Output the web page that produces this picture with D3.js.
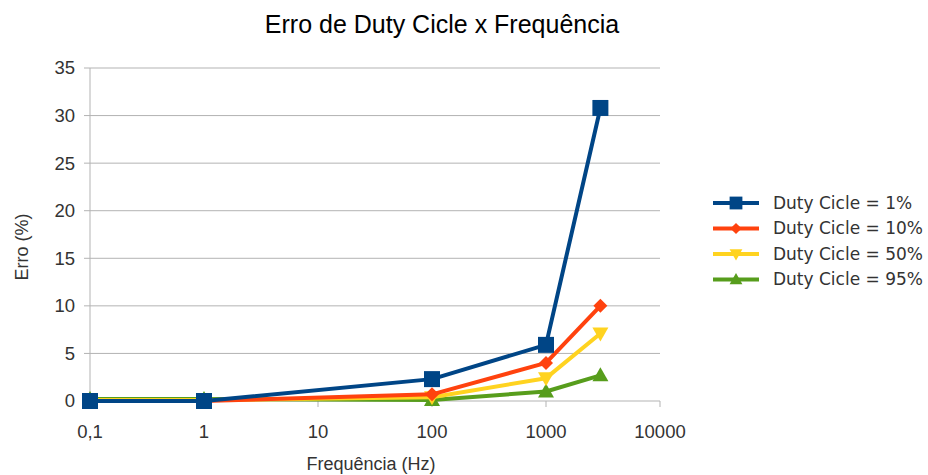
<!DOCTYPE html>
<html>
<head>
<meta charset="utf-8">
<script src="https://cdn.jsdelivr.net/npm/d3@7"></script>
<style>
  body { margin: 0; background: #fff; }
  text { font-family: "Liberation Sans", Arial, sans-serif; fill: #333; }
</style>
</head>
<body>
<script>
// data
const frequencies = [0.1, 1, 100, 1000, 3000];
const seriesNames = ['Duty Cicle = 1%', 'Duty Cicle = 10%', 'Duty Cicle = 50%', 'Duty Cicle = 95%'];
const duty1 = [0, 0, 2.3, 5.9, 30.8];
const duty10 = [0, 0, 0.7, 4.0, 10.0];
const duty50 = [0.1, 0.1, 0.4, 2.4, 7.1];
const duty95 = [0.2, 0.2, 0.1, 1.0, 2.7];
const xTicks = [0.1, 1, 10, 100, 1000, 10000];
const yTicks = [0, 5, 10, 15, 20, 25, 30, 35];

const colors = ['#004586', '#ff420e', '#ffd320', '#579d1c'];
const symbols = ['square', 'diamond', 'down', 'up'];
const allSeries = [duty1, duty10, duty50, duty95];

const width = 928, height = 475;
const margin = { left: 90, right: 268, top: 68, bottom: 74 };

const svg = d3.select('body').append('svg')
  .attr('width', width)
  .attr('height', height);

const x = d3.scaleLog()
  .domain([0.1, 10000])
  .range([margin.left, width - margin.right]);

const y = d3.scaleLinear()
  .domain([0, 35])
  .range([height - margin.bottom, margin.top]);

/* title */
svg.append('text')
  .attr('x', 442)
  .attr('y', 33)
  .attr('text-anchor', 'middle')
  .attr('font-size', 25)
  .style('fill', '#000')
  .text('Erro de Duty Cicle x Frequência');

/* grid */
svg.append('g')
  .selectAll('line')
  .data(yTicks)
  .enter().append('line')
  .attr('x1', margin.left - 6)
  .attr('x2', width - margin.right)
  .attr('y1', d => y(d))
  .attr('y2', d => y(d))
  .attr('stroke', '#b3b3b3')
  .attr('stroke-width', 1);

/* y axis line */
svg.append('line')
  .attr('x1', margin.left)
  .attr('x2', margin.left)
  .attr('y1', y(35))
  .attr('y2', y(0) + 6)
  .attr('stroke', '#b3b3b3');

/* x ticks */
svg.append('g')
  .selectAll('line')
  .data(xTicks)
  .enter().append('line')
  .attr('x1', d => x(d))
  .attr('x2', d => x(d))
  .attr('y1', y(0))
  .attr('y2', y(0) + 6)
  .attr('stroke', '#b3b3b3');

/* y tick labels */
svg.append('g')
  .selectAll('text')
  .data(yTicks)
  .enter().append('text')
  .attr('x', margin.left - 15)
  .attr('y', d => y(d))
  .attr('dy', '0.35em')
  .attr('text-anchor', 'end')
  .attr('font-size', 18.5)
  .text(d => d);

/* x tick labels */
svg.append('g')
  .selectAll('text')
  .data(xTicks)
  .enter().append('text')
  .attr('x', d => x(d))
  .attr('y', y(0) + 37)
  .attr('text-anchor', 'middle')
  .attr('font-size', 18.5)
  .text(d => String(d).replace('.', ','));

/* axis titles */
svg.append('text')
  .attr('transform', `translate(28, 247) rotate(-90)`)
  .attr('text-anchor', 'middle')
  .attr('font-size', 18)
  .text('Erro (%)');

svg.append('text')
  .attr('x', 371)
  .attr('y', 470)
  .attr('text-anchor', 'middle')
  .attr('font-size', 18)
  .text('Frequência (Hz)');

function markerPath(type) {
  if (type === 'square') return 'M-8,-8H8V8H-8Z';
  if (type === 'diamond') return 'M0,-7L7,0L0,7L-7,0Z';
  if (type === 'down') return 'M-8,-6H8L0,8Z';
  return 'M0,-8L8,6H-8Z';
}

const line = d3.line()
  .x(d => x(d[0]))
  .y(d => y(d[1]));

/* series, drawn last to first so the first sits on top */
for (let i = allSeries.length - 1; i >= 0; i--) {
  const pts = frequencies.map((f, j) => [f, allSeries[i][j]]);
  const g = svg.append('g');
  g.append('path')
    .attr('d', line(pts))
    .attr('fill', 'none')
    .attr('stroke', colors[i])
    .attr('stroke-width', 4)
    .attr('stroke-linejoin', 'round');
  g.selectAll('path.mk')
    .data(pts)
    .enter().append('path')
    .attr('class', 'mk')
    .attr('d', markerPath(symbols[i]))
    .attr('transform', d => `translate(${x(d[0])},${y(d[1])})`)
    .attr('fill', colors[i]);
}

/* legend */
const legend = svg.append('g');
seriesNames.forEach((name, i) => {
  const ly = 203 + i * 25.5;
  legend.append('line')
    .attr('x1', 713)
    .attr('x2', 759)
    .attr('y1', ly)
    .attr('y2', ly)
    .attr('stroke', colors[i])
    .attr('stroke-width', 4);
  legend.append('path')
    .attr('d', markerPath(symbols[i]))
    .attr('transform', `translate(736,${ly}) scale(0.8)`)
    .attr('fill', colors[i]);
  legend.append('text')
    .attr('x', 773)
    .attr('y', ly)
    .attr('dy', '0.35em')
    .attr('font-size', 17)
    .style('font-family', '"DejaVu Sans", sans-serif')
    .text(name);
});
</script>
</body>
</html>
